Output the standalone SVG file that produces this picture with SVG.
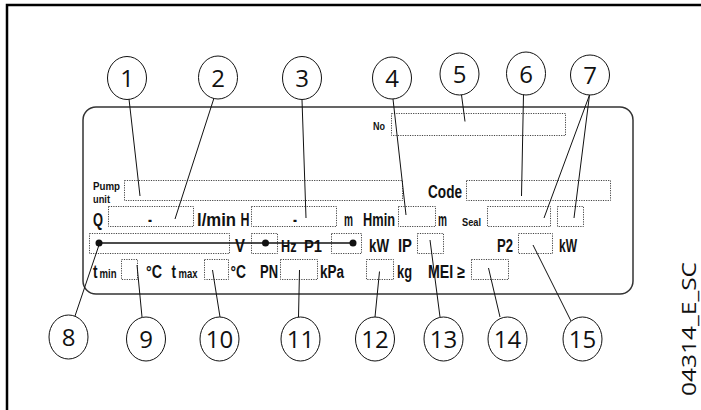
<svg xmlns="http://www.w3.org/2000/svg" width="701" height="410" viewBox="0 0 701 410">
<style>
.lbl{font-family:"Liberation Sans Narrow","Liberation Sans",Arial,sans-serif;font-weight:bold;fill:#111;}
.big{font-size:18px;}
.sm{font-size:11.5px;}
.num{font-family:"Open Sans","Noto Sans",sans-serif;font-size:24px;fill:#111;text-anchor:middle;}
.box{fill:none;stroke:#444;stroke-width:1;stroke-dasharray:1.2,1.2;}
.cir{fill:#fff;stroke:#111;stroke-width:1;}
.lead{stroke:#111;stroke-width:1;fill:none;}
</style>
<rect width="701" height="410" fill="#fff"/>
<path d="M7 410 V5 H701" fill="none" stroke="#000" stroke-width="2.5"/>
<text transform="translate(696,396) rotate(-90)" font-family="Open Sans, Noto Sans, sans-serif" font-size="20" fill="#111" textLength="134" lengthAdjust="spacingAndGlyphs">04314_E_SC</text>

<g id="plate">
<rect x="83" y="107" width="550" height="187" rx="13" ry="13" fill="none" stroke="#333" stroke-width="1.5"/>
<rect class="box" x="391.5" y="113.5" width="174" height="22"/>
<rect class="box" x="124.5" y="180.5" width="278" height="20"/>
<rect class="box" x="466.5" y="180.5" width="144" height="20"/>
<rect class="box" x="108.5" y="206.5" width="85" height="20"/>
<rect class="box" x="251.5" y="206.5" width="85" height="20"/>
<rect class="box" x="398.5" y="206.5" width="37" height="20"/>
<rect class="box" x="487.5" y="206.5" width="63" height="20"/>
<rect class="box" x="557.5" y="206.5" width="26" height="20"/>
<rect class="box" x="89.5" y="233.5" width="140" height="20"/>
<rect class="box" x="251.5" y="233.5" width="26" height="20"/>
<rect class="box" x="331.5" y="233.5" width="30" height="20"/>
<rect class="box" x="417.5" y="233.5" width="26" height="20"/>
<rect class="box" x="518.5" y="233.5" width="34" height="20"/>
<rect class="box" x="121.5" y="259.5" width="16" height="20"/>
<rect class="box" x="204.5" y="259.5" width="24" height="20"/>
<rect class="box" x="280.5" y="259.5" width="37" height="20"/>
<rect class="box" x="366.5" y="259.5" width="27" height="20"/>
<rect class="box" x="471.5" y="259.5" width="37" height="20"/>

<line x1="99" y1="243" x2="353" y2="243" stroke="#111" stroke-width="1.3"/>
<circle cx="99" cy="243" r="3.5" fill="#111"/>
<circle cx="265.5" cy="243" r="3.5" fill="#111"/>
<circle cx="353" cy="243" r="3.5" fill="#111"/>

<text class="lbl sm" x="373" y="130" textLength="12" lengthAdjust="spacingAndGlyphs">No</text>
<text class="lbl" x="93" y="190" font-size="11" textLength="27" lengthAdjust="spacingAndGlyphs">Pump</text>
<text class="lbl" x="93" y="203" font-size="11" textLength="17" lengthAdjust="spacingAndGlyphs">unit</text>
<text class="lbl big" x="428" y="198" textLength="34" lengthAdjust="spacingAndGlyphs">Code</text>

<text class="lbl big" x="93" y="225.5" textLength="10" lengthAdjust="spacingAndGlyphs">Q</text>
<text class="lbl big" x="148" y="225.5" textLength="4" lengthAdjust="spacingAndGlyphs">-</text>
<text class="lbl big" x="197" y="225.5" textLength="39" lengthAdjust="spacingAndGlyphs">l/min</text>
<text class="lbl big" x="240.5" y="225.5" textLength="9" lengthAdjust="spacingAndGlyphs">H</text>
<text class="lbl big" x="293" y="225.5" textLength="4" lengthAdjust="spacingAndGlyphs">-</text>
<text class="lbl big" x="344" y="225.5" textLength="9" lengthAdjust="spacingAndGlyphs">m</text>
<text class="lbl big" x="363" y="225.5" textLength="32" lengthAdjust="spacingAndGlyphs">Hmin</text>
<text class="lbl big" x="438" y="225.5" textLength="9" lengthAdjust="spacingAndGlyphs">m</text>
<text class="lbl sm" x="462" y="225.5" textLength="19" lengthAdjust="spacingAndGlyphs">Seal</text>

<text class="lbl big" x="235" y="251.5" textLength="10" lengthAdjust="spacingAndGlyphs">V</text>
<text class="lbl" x="281" y="251.5" font-size="16" textLength="15.5" lengthAdjust="spacingAndGlyphs">Hz</text>
<text class="lbl" x="304" y="251.5" font-size="16" textLength="18" lengthAdjust="spacingAndGlyphs">P1</text>
<text class="lbl big" x="369" y="251.5" textLength="20" lengthAdjust="spacingAndGlyphs">kW</text>
<text class="lbl big" x="398" y="251.5" textLength="14" lengthAdjust="spacingAndGlyphs">IP</text>
<text class="lbl big" x="497" y="251.5" textLength="16" lengthAdjust="spacingAndGlyphs">P2</text>
<text class="lbl big" x="559" y="251.5" textLength="18" lengthAdjust="spacingAndGlyphs">kW</text>

<text class="lbl big" x="93" y="277.5" textLength="4.5" lengthAdjust="spacingAndGlyphs">t</text>
<text class="lbl" x="99.5" y="277.5" font-size="12" textLength="17" lengthAdjust="spacingAndGlyphs">min</text>
<text class="lbl big" x="146" y="277.5" textLength="16" lengthAdjust="spacingAndGlyphs">°C</text>
<text class="lbl big" x="171.5" y="277.5" textLength="4.5" lengthAdjust="spacingAndGlyphs">t</text>
<text class="lbl" x="178.5" y="277.5" font-size="12" textLength="19" lengthAdjust="spacingAndGlyphs">max</text>
<text class="lbl big" x="230.5" y="277.5" textLength="15.5" lengthAdjust="spacingAndGlyphs">°C</text>
<text class="lbl big" x="260" y="277.5" textLength="18" lengthAdjust="spacingAndGlyphs">PN</text>
<text class="lbl big" x="320" y="277.5" textLength="24" lengthAdjust="spacingAndGlyphs">kPa</text>
<text class="lbl big" x="397" y="277.5" textLength="15" lengthAdjust="spacingAndGlyphs">kg</text>
<text class="lbl big" x="428" y="277.5" textLength="37" lengthAdjust="spacingAndGlyphs">MEI ≥</text>
</g>

<g id="connectors">
<line class="lead" x1="129" y1="99" x2="140" y2="196"/>
<line class="lead" x1="214" y1="98" x2="175" y2="219"/>
<line class="lead" x1="302" y1="100" x2="306" y2="218"/>
<line class="lead" x1="393" y1="99" x2="406" y2="215"/>
<line class="lead" x1="461.5" y1="95" x2="465" y2="121.5"/>
<line class="lead" x1="523.5" y1="94" x2="521.5" y2="196"/>
<line class="lead" x1="589.5" y1="95" x2="544" y2="218"/>
<line class="lead" x1="589.5" y1="95" x2="574" y2="218"/>
<line class="lead" x1="99" y1="245" x2="75" y2="316"/>
<line class="lead" x1="137" y1="265" x2="142" y2="317"/>
<line class="lead" x1="212.5" y1="270" x2="220" y2="317"/>
<line class="lead" x1="299.5" y1="270" x2="298.5" y2="317"/>
<line class="lead" x1="379.5" y1="271.5" x2="375" y2="317"/>
<line class="lead" x1="430" y1="240" x2="440" y2="317"/>
<line class="lead" x1="488.5" y1="268" x2="500" y2="317"/>
<line class="lead" x1="533" y1="245" x2="571" y2="321"/>
</g>

<g id="n1"><ellipse class="cir" cx="127" cy="78" rx="19.5" ry="21.5"/><text class="num" x="127" y="87">1</text></g>
<g id="n2"><ellipse class="cir" cx="218" cy="77.5" rx="19.5" ry="21.5"/><text class="num" x="218" y="86.5">2</text></g>
<g id="n3"><ellipse class="cir" cx="302" cy="78" rx="19.5" ry="21.5"/><text class="num" x="302" y="87">3</text></g>
<g id="n4"><ellipse class="cir" cx="392" cy="78" rx="19.5" ry="21"/><text class="num" x="392" y="87">4</text></g>
<g id="n5"><ellipse class="cir" cx="459.5" cy="74" rx="19.5" ry="21"/><text class="num" x="459.5" y="83">5</text></g>
<g id="n6"><ellipse class="cir" cx="526" cy="73.5" rx="19.5" ry="21.5"/><text class="num" x="526" y="82.5">6</text></g>
<g id="n7"><ellipse class="cir" cx="590" cy="75" rx="19.5" ry="20"/><text class="num" x="590" y="84">7</text></g>
<g id="n8"><ellipse class="cir" cx="68.5" cy="337" rx="19.5" ry="22"/><text class="num" x="68.5" y="346">8</text></g>
<g id="n9"><ellipse class="cir" cx="146" cy="339" rx="19.5" ry="22"/><text class="num" x="146" y="348">9</text></g>
<g id="n10"><ellipse class="cir" cx="219.5" cy="339" rx="19.5" ry="22"/><text class="num" x="219.5" y="348">10</text></g>
<g id="n11"><ellipse class="cir" cx="300.5" cy="339" rx="19.5" ry="22"/><text class="num" x="300.5" y="348">11</text></g>
<g id="n12"><ellipse class="cir" cx="375" cy="339" rx="19.5" ry="22"/><text class="num" x="375" y="348">12</text></g>
<g id="n13"><ellipse class="cir" cx="443.5" cy="339" rx="19.5" ry="22"/><text class="num" x="443.5" y="348">13</text></g>
<g id="n14"><ellipse class="cir" cx="507.5" cy="339" rx="19.5" ry="22"/><text class="num" x="507.5" y="348">14</text></g>
<g id="n15"><ellipse class="cir" cx="582.5" cy="339" rx="19.5" ry="22"/><text class="num" x="582.5" y="348">15</text></g>
</svg>
